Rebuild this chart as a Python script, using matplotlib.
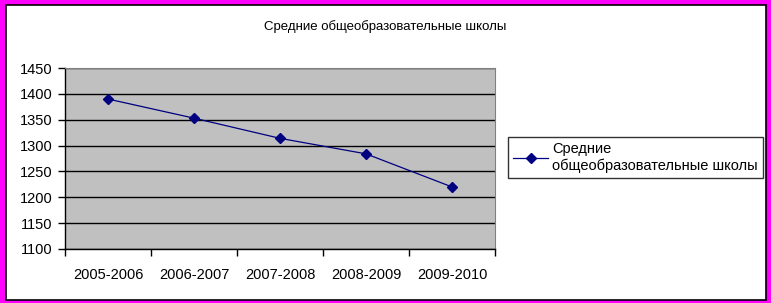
import matplotlib.pyplot as plt
from matplotlib.patches import Rectangle

plt.rcParams['font.family'] = ['Liberation Sans', 'DejaVu Sans']

years = ['2005-2006', '2006-2007', '2007-2008', '2008-2009', '2009-2010']
schools = [1390, 1353, 1314, 1284, 1220]
series_name = 'Средние\nобщеобразовательные школы'
title = 'Средние общеобразовательные школы'

W, H = 771, 303
fig = plt.figure(figsize=(W / 100, H / 100), dpi=100)
fig.patch.set_facecolor('#ff00ff')
# white chart area with black border
fig.patches.append(Rectangle((6 / W, 1 - 300 / H), 760 / W, 295 / H,
                             transform=fig.transFigure, facecolor='white',
                             edgecolor='black', linewidth=1.2, zorder=-5))

ax = fig.add_axes([65 / W, 1 - 249 / H, 430 / W, 181 / H])
ax.set_zorder(2)
ax.set_facecolor('#c0c0c0')
x = list(range(len(years)))
line, = ax.plot(x, schools, color='#000080', lw=0.9, marker='D', ms=5.5,
                markerfacecolor='#000080', markeredgecolor='#000080',
                label=series_name, zorder=3)

ax.set_xlim(-0.5, len(years) - 0.5)
ax.set_ylim(1100, 1450)
ax.set_yticks(range(1100, 1451, 50))
ax.yaxis.grid(True, color='black', lw=1)
ax.set_axisbelow(True)
ax.set_xticks([i - 0.5 for i in range(len(years) + 1)])
ax.set_xticklabels([])
ax.set_xticks(x, minor=True)
ax.set_xticklabels(years, minor=True)
ax.tick_params(axis='x', which='minor', length=0, pad=14, labelsize=10.5)
ax.tick_params(axis='x', which='major', length=5, direction='out', width=1)
ax.tick_params(axis='y', length=5, direction='out', width=1, labelsize=10.5, pad=4)
for s in ['left', 'bottom']:
    ax.spines[s].set_linewidth(1)
ax.spines['top'].set_color('#808080')
ax.spines['right'].set_color('#808080')

fig.text(385 / W, 1 - 27 / H, title, ha='center', va='center', fontsize=9.5)

leg = fig.legend(handles=[line], loc='upper left',
                 bbox_to_anchor=(508 / W, 1 - 137 / H), fontsize=10.5,
                 frameon=True, fancybox=False, handlelength=2.4,
                 borderpad=0.35, labelspacing=0.2, handletextpad=0.3,
                 borderaxespad=0)
leg.get_frame().set_edgecolor('black')
leg.get_frame().set_linewidth(1)

fig.savefig('out.png', dpi=100, facecolor=fig.get_facecolor())
